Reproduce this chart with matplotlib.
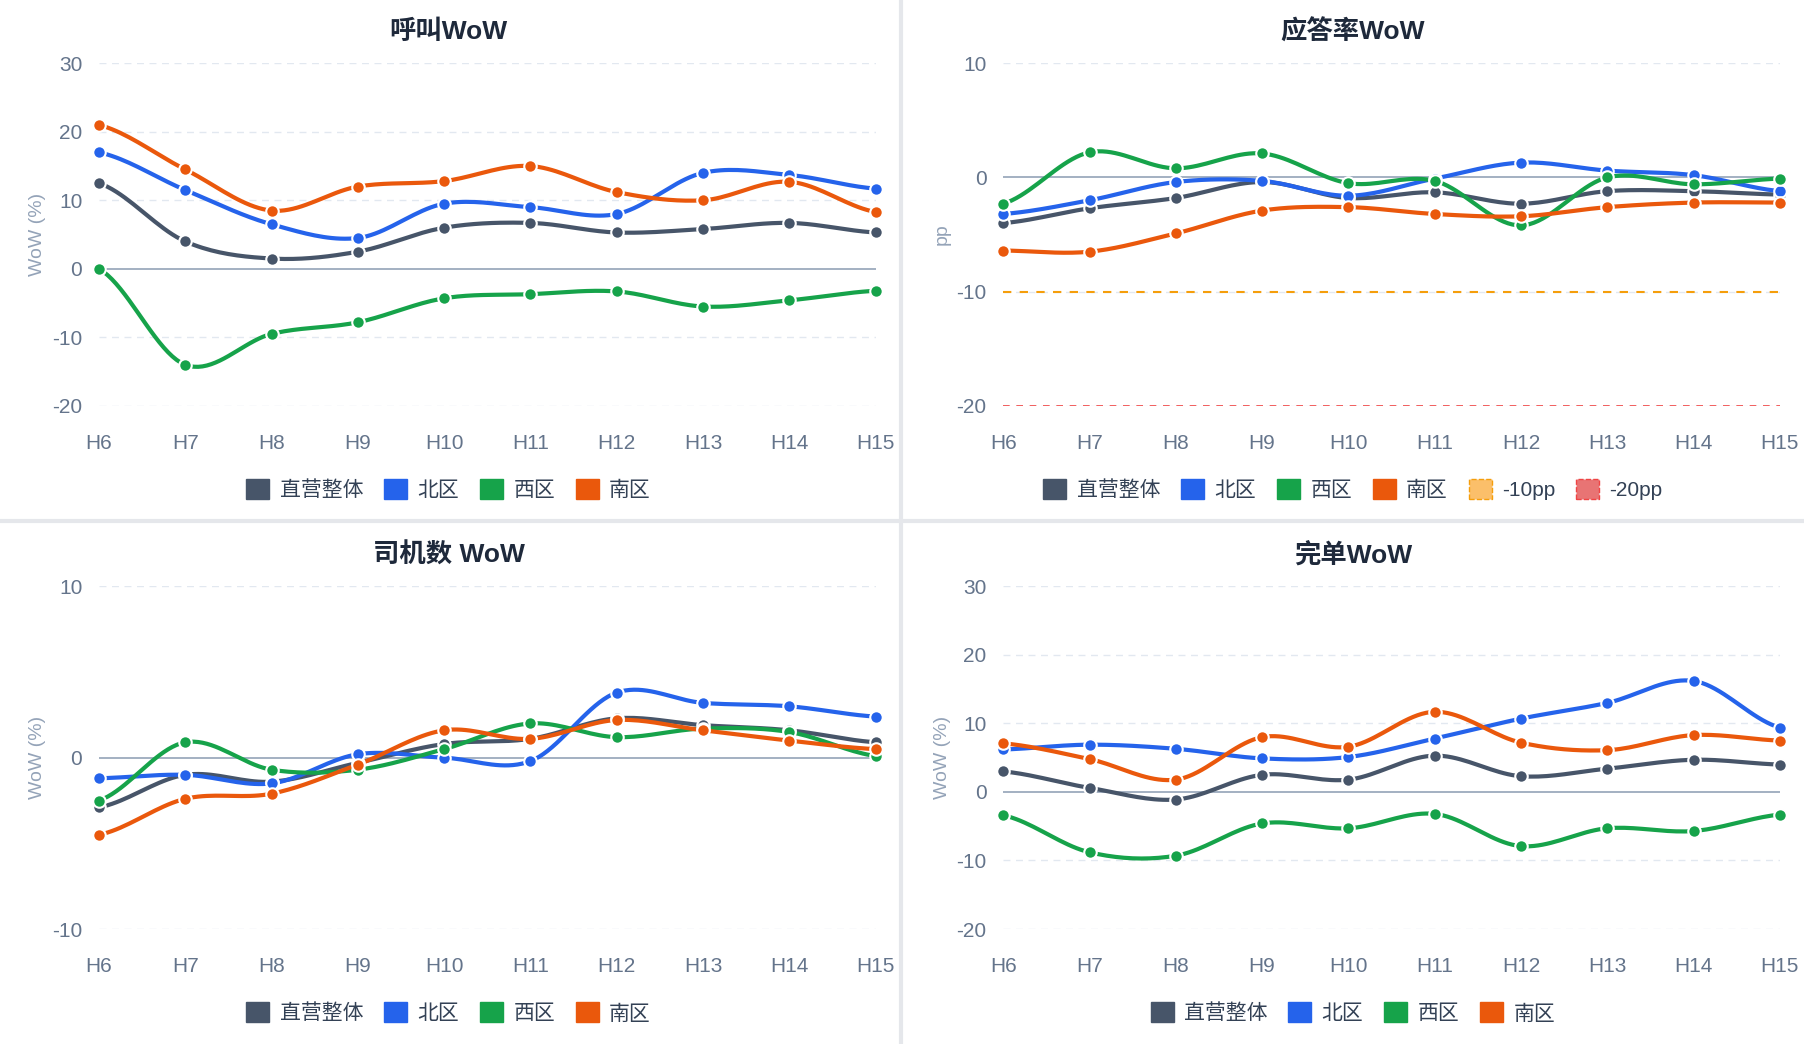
import numpy as np
import matplotlib.pyplot as plt
from matplotlib.patches import Patch

plt.rcParams['font.family'] = ['Liberation Sans', 'Noto Sans CJK SC', 'DejaVu Sans']
plt.rcParams['axes.unicode_minus'] = False

HOURS = ["H6", "H7", "H8", "H9", "H10", "H11", "H12", "H13", "H14", "H15"]
NAMES = ["直营整体", "北区", "西区", "南区"]
COLORS = ["#475569", "#2563eb", "#16a34a", "#ea580c"]

panels = [
    {
        "title": "呼叫WoW", "ylabel": "WoW (%)", "ticks": [-20, -10, 0, 10, 20, 30],
        "data": [
            [12.5, 4, 1.5, 2.5, 6, 6.7, 5.3, 5.8, 6.7, 5.3],
            [17, 11.5, 6.5, 4.5, 9.5, 9, 8, 14, 13.7, 11.7],
            [0, -14, -9.5, -7.8, -4.3, -3.7, -3.3, -5.5, -4.6, -3.2],
            [21, 14.5, 8.5, 12, 12.8, 15, 11.2, 10, 12.7, 8.3],
        ],
    },
    {
        "title": "应答率WoW", "ylabel": "pp", "ticks": [-20, -10, 0, 10],
        "data": [
            [-4, -2.7, -1.8, -0.4, -1.8, -1.3, -2.3, -1.2, -1.2, -1.5],
            [-3.2, -2, -0.4, -0.3, -1.6, -0.1, 1.3, 0.6, 0.2, -1.2],
            [-2.3, 2.2, 0.8, 2.1, -0.5, -0.3, -4.2, 0, -0.6, -0.1],
            [-6.4, -6.5, -4.9, -2.9, -2.6, -3.2, -3.4, -2.6, -2.2, -2.2],
        ],
    },
    {
        "title": "司机数 WoW", "ylabel": "WoW (%)", "ticks": [-10, 0, 10],
        "data": [
            [-2.9, -1.0, -1.4, -0.3, 0.8, 1.1, 2.3, 1.9, 1.6, 0.9],
            [-1.2, -1.0, -1.5, 0.2, 0, -0.2, 3.8, 3.2, 3.0, 2.4],
            [-2.5, 0.9, -0.7, -0.7, 0.5, 2.0, 1.2, 1.7, 1.5, 0.1],
            [-4.5, -2.4, -2.1, -0.4, 1.6, 1.1, 2.2, 1.6, 1.0, 0.5],
        ],
    },
    {
        "title": "完单WoW", "ylabel": "WoW (%)", "ticks": [-20, -10, 0, 10, 20, 30],
        "data": [
            [3, 0.6, -1.1, 2.5, 1.8, 5.3, 2.3, 3.4, 4.7, 4.0],
            [6.2, 6.9, 6.3, 4.9, 5.1, 7.8, 10.7, 13, 16.2, 9.4],
            [-3.4, -8.8, -9.3, -4.6, -5.3, -3.2, -7.9, -5.3, -5.7, -3.3],
            [7.1, 4.8, 1.8, 8, 6.6, 11.7, 7.2, 6.1, 8.3, 7.5],
        ],
    },
]


def smooth(y, n=20):
    # catmull-rom through the points
    y = np.asarray(y, float)
    p = np.concatenate([[y[0]], y, [y[-1]]])
    xs, ys = [], []
    for i in range(len(y) - 1):
        t = np.linspace(0, 1, n, endpoint=False)
        p0, p1, p2, p3 = p[i], p[i + 1], p[i + 2], p[i + 3]
        v = 0.5 * (2 * p1 + (-p0 + p2) * t + (2 * p0 - 5 * p1 + 4 * p2 - p3) * t ** 2
                   + (-p0 + 3 * p1 - 3 * p2 + p3) * t ** 3)
        xs.extend(i + t)
        ys.extend(v)
    xs.append(len(y) - 1)
    ys.append(y[-1])
    return np.array(xs), np.array(ys)


fig = plt.figure(figsize=(18.04, 10.44), dpi=100)
W, H = 1568, 908
pos = [(86, 55, 353), (872, 55, 353), (86, 510, 808), (872, 510, 808)]

for k, (p, (x0, ytop, ybot)) in enumerate(zip(panels, pos)):
    ax = fig.add_axes([x0 / W, 1 - ybot / H, 675 / W, (ybot - ytop) / H])
    ticks = p["ticks"]
    ax.set_xlim(0, 9)
    ax.set_ylim(ticks[0], ticks[-1])
    for t in ticks:
        if t == 0:
            ax.axhline(0, color="#94a3b8", lw=1.2, zorder=1)
        else:
            ax.axhline(t, color="#e2e8f0", lw=1, ls=(0, (5, 4)), zorder=1)
    for name, color, vals in zip(NAMES, COLORS, p["data"]):
        sx, sy = smooth(vals)
        ax.plot(sx, sy, color=color, lw=3, zorder=3, clip_on=False)
        ax.plot(range(10), vals, "o", color=color, ms=9, mec="white", mew=1.5,
                zorder=4, clip_on=False)
    handles = [Patch(color=c, label=n) for n, c in zip(NAMES, COLORS)]
    if k == 1:
        ax.axhline(-10, color="#f59e0b", lw=1.5, ls=(0, (4, 4)), zorder=2)
        ax.axhline(-20, color="#ef4444", lw=1.2, ls=(0, (4, 4)), zorder=2)
        handles += [Patch(facecolor="#fbbf6a", edgecolor="#f59e0b", ls="--", label="-10pp"),
                    Patch(facecolor="#e87474", edgecolor="#ef4444", ls="--", label="-20pp")]
    ax.set_xticks(range(10))
    ax.set_xticklabels(HOURS)
    ax.set_yticks(ticks)
    ax.tick_params(length=0, labelsize=15, labelcolor="#64748b")
    ax.tick_params(axis="x", pad=20)
    ax.tick_params(axis="y", pad=12)
    for s in ax.spines.values():
        s.set_visible(False)
    ax.set_ylabel(p["ylabel"], color="#94a3b8", fontsize=14, labelpad=4)
    cx = (x0 - 86 + 390) / W
    fig.text(cx, 1 - (ytop - 27) / H, p["title"], ha="center", va="center",
             fontsize=19, fontweight="bold", color="#1e293b")
    ly = 1 - (ytop + 371) / H
    fig.legend(handles=handles, loc="center", bbox_to_anchor=(cx, ly), ncol=len(handles),
               frameon=False, fontsize=15, handlelength=1.1, handleheight=1.1,
               columnspacing=1.0, handletextpad=0.5, labelcolor="#334155")

# panel separators
fig.add_artist(plt.Line2D([783 / W, 783 / W], [0, 1], color="#e5e7eb", lw=3))
fig.add_artist(plt.Line2D([0, 1], [1 - 453 / H, 1 - 453 / H], color="#e5e7eb", lw=3))

fig.savefig("out.png", dpi=100, facecolor="white")
